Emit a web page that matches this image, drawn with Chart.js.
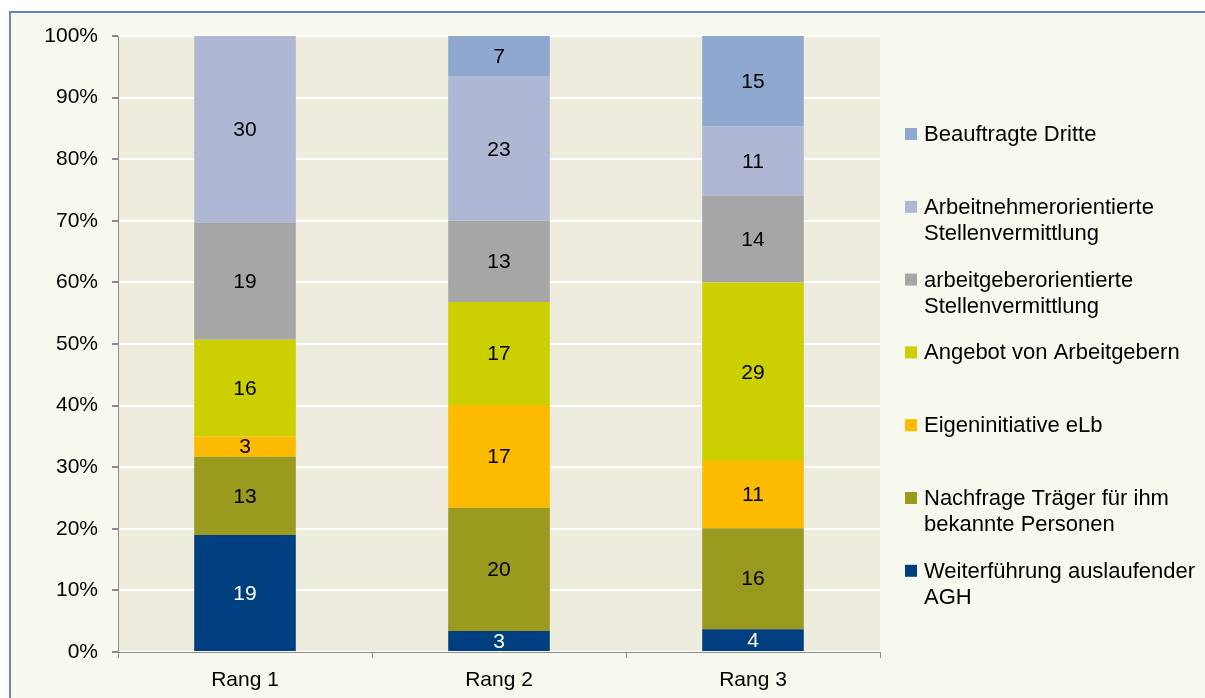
<!DOCTYPE html>
<html><head><meta charset="utf-8">
<script src="https://cdn.jsdelivr.net/npm/chart.js@4"></script>
<style>
html,body{margin:0;padding:0;background:#fff;width:1205px;height:698px;overflow:hidden;}
#frame{position:absolute;left:9px;top:11px;width:1196px;height:687px;box-sizing:border-box;border-top:2px solid #6a86b8;border-left:2px solid #6a86b8;background:#F8F9EE;}
#c{position:absolute;left:0;top:0;}
</style></head><body>
<div id="frame"><canvas id="c" width="1194" height="685"></canvas></div>
<script>
const categories = ['Rang 1', 'Rang 2', 'Rang 3'];
const seriesNames = [
  'Weiterführung auslaufender AGH',
  'Nachfrage Träger für ihm bekannte Personen',
  'Eigeninitiative eLb',
  'Angebot von Arbeitgebern',
  'arbeitgeberorientierte Stellenvermittlung',
  'Arbeitnehmerorientierte Stellenvermittlung',
  'Beauftragte Dritte'
];
const weiterfuehrung = [19.0, 3.4, 3.7];
const nachfrage = [12.7, 20.0, 16.4];
const eigeninitiative = [3.3, 16.7, 10.9];
const angebot = [15.7, 16.7, 29.0];
const arbeitgeberorientiert = [19.0, 13.2, 14.1];
const arbeitnehmerorientiert = [30.3, 23.4, 11.2];
const beauftragte = [0, 6.6, 14.7];
const seriesColors = ['#003F7F', '#999A1E', '#FDBB00', '#CCD000', '#A6A6A6', '#AFB7D5', '#8FA8D0'];
const labelColors = ['#ffffff', '#000', '#000', '#000', '#000', '#000', '#000'];
const yTicks = [0,10,20,30,40,50,60,70,80,90,100];

const FONT = '"Liberation Sans", Arial, sans-serif';
const allSeries = [weiterfuehrung, nachfrage, eigeninitiative, angebot, arbeitgeberorientiert, arbeitnehmerorientiert, beauftragte];

const datasets = allSeries.map((d, i) => ({
  label: seriesNames[i],
  data: d,
  backgroundColor: seriesColors[i],
  borderWidth: 0,
  barPercentage: 0.4,
  categoryPercentage: 1.0
}));

const plotBg = {
  id: 'plotBg',
  beforeDraw(chart) {
    const {ctx, chartArea: a} = chart;
    ctx.save();
    ctx.fillStyle = '#EEECDD';
    ctx.fillRect(a.left, a.top, a.right - a.left, a.bottom - a.top);
    ctx.restore();
  }
};

const valueLabels = {
  id: 'valueLabels',
  afterDatasetsDraw(chart) {
    const ctx = chart.ctx;
    ctx.save();
    ctx.font = '21px ' + FONT;
    ctx.textAlign = 'center';
    ctx.textBaseline = 'middle';
    chart.data.datasets.forEach((ds, i) => {
      const meta = chart.getDatasetMeta(i);
      meta.data.forEach((bar, j) => {
        const v = ds.data[j];
        if (!v) return;
        const p = bar.getProps(['x', 'y', 'base'], true);
        ctx.fillStyle = labelColors[i];
        ctx.fillText(String(Math.round(v)), p.x, (p.y + p.base) / 2 + 1);
      });
    });
    ctx.restore();
  }
};

const customLegend = {
  id: 'customLegend',
  afterDraw(chart) {
    const ctx = chart.ctx;
    ctx.save();
    ctx.font = '22px ' + FONT;
    ctx.textBaseline = 'middle';
    ctx.textAlign = 'left';
    const boxX = 894, textX = 913, startY = 121, step = 72.8, lineH = 26, maxW = 278;
    const ds = chart.data.datasets;
    for (let k = 0; k < ds.length; k++) {
      const i = ds.length - 1 - k;
      const y = startY + k * step;
      ctx.fillStyle = ds[i].backgroundColor;
      ctx.fillRect(boxX, y - 6, 12, 12);
      const words = ds[i].label.split(' ');
      const lines = [];
      let cur = '';
      words.forEach(w => {
        const t = cur ? cur + ' ' + w : w;
        if (ctx.measureText(t).width > maxW && cur) { lines.push(cur); cur = w; }
        else cur = t;
      });
      if (cur) lines.push(cur);
      ctx.fillStyle = '#000';
      lines.forEach((ln, li) => ctx.fillText(ln, textX, y + li * lineH + 1));
    }
    ctx.restore();
  }
};

new Chart(document.getElementById('c'), {
  type: 'bar',
  data: { labels: categories, datasets },
  options: {
    responsive: false,
    animation: false,
    devicePixelRatio: 1,
    layout: { padding: { left: 0, top: 23, right: 325, bottom: 0 } },
    plugins: { legend: { display: false }, tooltip: { enabled: false } },
    scales: {
      x: {
        stacked: true,
        grid: { drawOnChartArea: false, tickLength: 6, tickColor: '#8c8c8c', offset: true },
        border: { color: '#8c8c8c', width: 1 },
        ticks: { color: '#000', font: { family: FONT, size: 21 }, padding: 10 },
        afterFit(s) { s.height = 46; s.paddingLeft = 0; s.paddingRight = 0; }
      },
      y: {
        stacked: true,
        min: 0, max: 100,
        afterBuildTicks(s) { s.ticks = yTicks.map(v => ({ value: v })); },
        ticks: { callback: v => v + '%', color: '#000', font: { family: FONT, size: 21 }, padding: 14 },
        grid: { color: '#ffffff', lineWidth: 2, tickLength: 6, tickColor: '#8c8c8c' },
        border: { color: '#8c8c8c', width: 1 },
        afterFit(s) { s.width = 107; s.paddingTop = 0; s.paddingBottom = 0; }
      }
    }
  },
  plugins: [plotBg, valueLabels, customLegend]
});
</script>
</body></html>
